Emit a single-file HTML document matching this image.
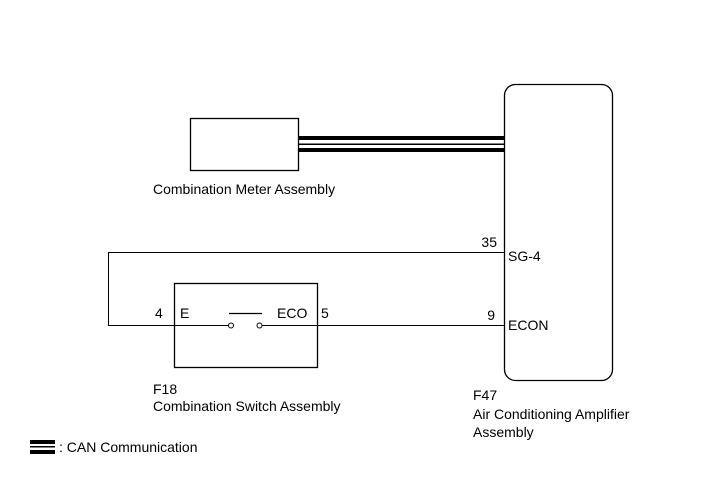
<!DOCTYPE html>
<html><head><meta charset="utf-8"><style>
body{margin:0;background:#fff}
svg text{font-family:"Liberation Sans",Arial,sans-serif;font-size:14px;fill:#000}
</style></head><body>
<svg width="713" height="481" viewBox="0 0 713 481" xmlns="http://www.w3.org/2000/svg">
<rect x="190.5" y="118.5" width="108" height="52" fill="#fff" stroke="#000" stroke-width="1.3"/>
<rect x="504.5" y="84.5" width="108" height="296" rx="11" fill="#fff" stroke="#000" stroke-width="1.3"/>
<rect x="298" y="136" width="206" height="4" fill="#000"/>
<rect x="298" y="143.5" width="206" height="1.5" fill="#000"/>
<rect x="298" y="148" width="206" height="4" fill="#000"/>
<polyline points="504,252.5 108.5,252.5 108.5,325.5 229,325.5" fill="none" stroke="#000" stroke-width="1"/>
<line x1="262" y1="325.5" x2="504" y2="325.5" stroke="#000" stroke-width="1"/>
<rect x="174.5" y="283.5" width="143" height="84" fill="none" stroke="#000" stroke-width="1.3"/>
<line x1="229" y1="313.5" x2="262" y2="313.5" stroke="#000" stroke-width="1.3"/>
<circle cx="231" cy="325.5" r="2.5" fill="#fff" stroke="#000"/>
<circle cx="259.5" cy="325.5" r="2.5" fill="#fff" stroke="#000"/>
<rect x="30" y="440" width="25" height="4" fill="#000"/>
<rect x="30" y="446" width="25" height="1.5" fill="#000"/>
<rect x="30" y="450" width="25" height="4" fill="#000"/>
<text x="153" y="194">Combination Meter Assembly</text>
<text x="497" y="247" text-anchor="end">35</text>
<text x="508" y="261">SG-4</text>
<text x="155" y="318">4</text>
<text x="180" y="318">E</text>
<text x="277" y="318">ECO</text>
<text x="321" y="318">5</text>
<text x="495" y="320" text-anchor="end">9</text>
<text x="508" y="330">ECON</text>
<text x="153" y="394">F18</text>
<text x="153" y="411">Combination Switch Assembly</text>
<text x="473" y="400">F47</text>
<text x="473" y="419">Air Conditioning Amplifier</text>
<text x="473" y="437">Assembly</text>
<text x="59" y="452">: CAN Communication</text>
</svg>
</body></html>
